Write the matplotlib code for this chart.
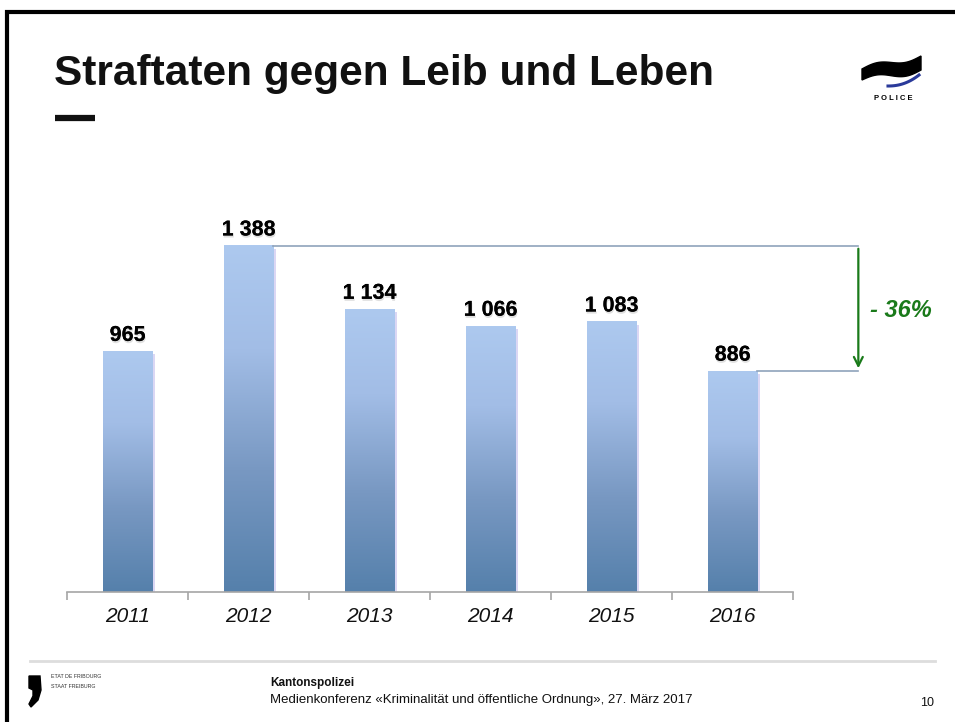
import numpy as np
import matplotlib.pyplot as plt
import matplotlib.patheffects as pe
from matplotlib.colors import LinearSegmentedColormap
from matplotlib.patches import Rectangle, Polygon

# Data
years = ["2011", "2012", "2013", "2014", "2015", "2016"]
cases = [965, 1388, 1134, 1066, 1083, 886]
labels = ["965", "1 388", "1 134", "1 066", "1 083", "886"]

W, H = 955, 722
fig = plt.figure(figsize=(W / 100, H / 100), dpi=100)
fig.patch.set_facecolor("white")

# full-figure overlay in pixel coords
bg = fig.add_axes([0, 0, 1, 1])
bg.set_xlim(0, W)
bg.set_ylim(H, 0)
bg.axis("off")

# slide border (left + top)
bg.plot([6.5, 6.5, W + 5], [H + 5, 11.5, 11.5], color="black", lw=3, solid_joinstyle="miter")

# title
bg.text(54, 74, "Straftaten gegen Leib und Leben", fontsize=30.5, fontweight="bold",
        family="Liberation Sans", va="center", ha="left", color="#111111")
bg.plot([55, 95], [118, 118], color="#111111", lw=4.5, solid_capstyle="butt")

# police logo (approximate)
t = np.linspace(0, 1, 40)
lx = 862 + 59 * t
top_edge = 69 - 13 * t - 3 * np.sin(2 * np.pi * t)
bot_edge = 80 - 8 * t - 3 * np.sin(2 * np.pi * t) - 2 * t ** 3
wave = Polygon(np.column_stack([np.r_[lx, lx[::-1]], np.r_[top_edge, bot_edge[::-1]]]),
               closed=True, color="black")
bg.add_patch(wave)
bg.plot(888 + 31 * t, 86 - 11 * t ** 2.2, color="#2a3a9a", lw=2.2)
bg.text(893, 98, "P O L I C E", fontsize=5.5, fontweight="bold", ha="center",
        va="center", family="Liberation Sans")

# footer
bg.plot([30, 935], [661, 661], color="#dddddd", lw=2)
comma = Polygon([[29, 676], [40, 676], [41, 690], [38, 700], [31, 707], [29, 704],
                 [33, 696], [33, 690], [29, 688]], closed=True, color="black")
bg.add_patch(comma)
bg.text(51, 677, "ETAT DE FRIBOURG", fontsize=3.8, family="Liberation Sans", va="center", color="#333333")
bg.text(51, 686, "STAAT FREIBURG", fontsize=3.8, family="Liberation Sans", va="center", color="#333333")
bg.text(270, 683, "Kantonspolizei", fontsize=8.5, fontweight="bold", family="Liberation Sans",
        va="center", color="#111111")
bg.text(270, 700, "Medienkonferenz «Kriminalität und öffentliche Ordnung», 27. März 2017",
        fontsize=9.5, family="Liberation Sans", va="center", color="#111111")
bg.text(927, 703, "10", fontsize=9, family="Liberation Sans", va="center", ha="center", color="#111111")

# main chart axes
x0, x1 = 67, 793
base, top = 592, 218
ymax = 1500
ax = fig.add_axes([x0 / W, (H - base) / H, (x1 - x0) / W, (base - top) / H])
ax.set_xlim(-0.5, len(years) - 0.5)
ax.set_ylim(0, ymax)
ax.set_facecolor("none")
for s in ["top", "right", "left"]:
    ax.spines[s].set_visible(False)
ax.spines["bottom"].set_color("#a6a6a6")
ax.spines["bottom"].set_linewidth(1.2)
ax.set_yticks([])
ax.set_xticks(np.arange(-0.5, len(years), 1.0))
ax.set_xticklabels([])
ax.tick_params(axis="x", length=6, color="#a6a6a6", width=1.2, direction="out")
for i, y in enumerate(years):
    ax.text(i, -100, y, ha="center", va="center", fontsize=15, style="italic",
            family="Liberation Sans", color="#111111")

cmap = LinearSegmentedColormap.from_list("bar", [(0, "#5580ab"), (0.35, "#7898c2"),
                                                  (0.7, "#a2bde6"), (1, "#adc9ef")])
grad = np.linspace(0, 1, 256).reshape(-1, 1)
bw = 0.41
for i, v in enumerate(cases):
    # soft shadow at the right side
    ax.add_patch(Rectangle((i + bw / 2, 0), 0.022, v - 12, color="#c4bdee", alpha=0.6,
                           lw=0, zorder=1))
    ax.imshow(grad, cmap=cmap, origin="lower", aspect="auto",
              extent=[i - bw / 2, i + bw / 2, 0, v], zorder=2)
    ax.text(i, v + 22, labels[i], ha="center", va="bottom", fontsize=15.5, fontweight="bold",
            family="Liberation Sans", color="black", zorder=3,
            path_effects=[pe.withSimplePatchShadow(offset=(0.5, -1.5), shadow_rgbFace="#999999", alpha=0.3),
                          pe.Normal()])
ax.set_xlim(-0.5, len(years) - 0.5)
ax.set_ylim(0, ymax)

# bracket showing the change from the peak to the last year
peak = int(np.argmax(cases))
last = len(cases) - 1
xr = 6.04
ax.plot([peak + bw / 2, xr], [cases[peak], cases[peak]], color="#8fa3bb", lw=1.2, clip_on=False)
ax.plot([last + bw / 2, xr], [cases[last], cases[last]], color="#8fa3bb", lw=1.2, clip_on=False)
ax.annotate("", xy=(xr, cases[last]), xytext=(xr, cases[peak]),
            arrowprops=dict(arrowstyle="->", color="#1a7a1a", lw=1.6, mutation_scale=16),
            annotation_clip=False)
pct = round((cases[last] - cases[peak]) / cases[peak] * 100)
ax.text(xr + 0.1, (cases[peak] + cases[last]) / 2 - 8, f"- {abs(pct)}%", color="#1a7a1a",
        fontsize=17, fontweight="bold", style="italic", family="Liberation Sans",
        ha="left", va="center")

fig.savefig("out.png", dpi=100)
